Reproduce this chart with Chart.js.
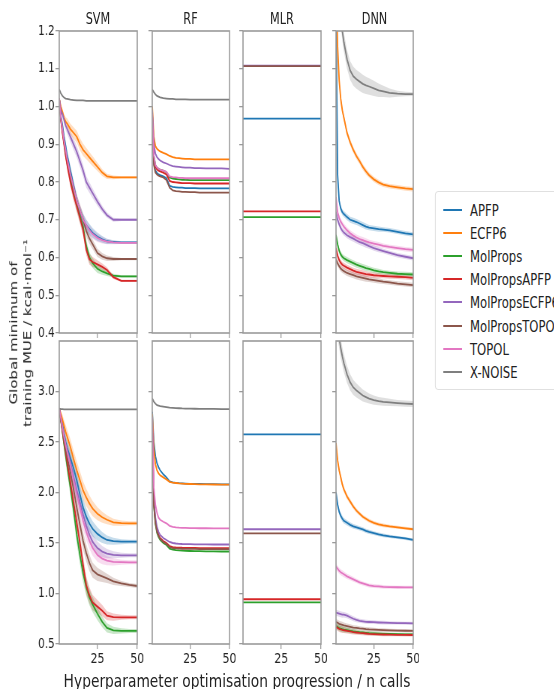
<!DOCTYPE html>
<html>
<head>
<meta charset="utf-8">
<script src="https://cdn.jsdelivr.net/npm/chart.js@4/dist/chart.umd.min.js"></script>
<style>
  html, body { margin: 0; padding: 0; background: #fff; }
  #page { position: relative; width: 554px; height: 689px; overflow: hidden; }
  #fig { position: absolute; left: 0; top: 0; width: 739px; height: 689px; transform: scaleX(0.75); transform-origin: 0 0; }
  #fig canvas { position: absolute; }
  .txt { position: absolute; white-space: nowrap; color: #222; line-height: 1; }
</style>
</head>
<body>
<div id="page"><div id="fig"></div></div>
<script>
// the source figure is squeezed sideways, so everything is laid out wider and scaled by SQ
const SQ = 0.75;
const FONT = '"DejaVu Sans", sans-serif';

const series = ['APFP', 'ECFP6', 'MolProps', 'MolPropsAPFP', 'MolPropsECFP6', 'MolPropsTOPO', 'TOPOL', 'X-NOISE'];
const colours = ['#1f77b4', '#ff7f0e', '#2ca02c', '#d62728', '#9467bd', '#8c564b', '#e377c2', '#7f7f7f'];
const models = ['SVM', 'RF', 'MLR', 'DNN'];

const calls = [1, 2, 3, 4, 5, 6, 8, 10, 12, 14, 16, 18, 20, 22, 25, 28, 31, 35, 40, 45, 50];
const xTicks = [25, 50];
const topTicks = [0.4, 0.5, 0.6, 0.7, 0.8, 0.9, 1.0, 1.1, 1.2];
const bottomTicks = [0.5, 1.0, 1.5, 2.0, 2.5, 3.0];

// series order as in `series`
const svmTop = [
  [1.02, 0.975, 0.95, 0.92, 0.895, 0.87, 0.83, 0.79, 0.75, 0.72, 0.70, 0.685, 0.675, 0.665, 0.655, 0.648, 0.643, 0.641, 0.64, 0.64, 0.64],
  [1.02, 1.00, 0.985, 0.97, 0.96, 0.955, 0.94, 0.93, 0.92, 0.90, 0.885, 0.875, 0.865, 0.855, 0.84, 0.825, 0.815, 0.812, 0.812, 0.812, 0.812],
  [1.02, 0.965, 0.935, 0.905, 0.875, 0.85, 0.81, 0.775, 0.74, 0.71, 0.68, 0.63, 0.60, 0.585, 0.57, 0.563, 0.558, 0.552, 0.55, 0.55, 0.55],
  [1.02, 0.965, 0.93, 0.90, 0.87, 0.845, 0.80, 0.765, 0.735, 0.705, 0.673, 0.62, 0.595, 0.588, 0.582, 0.575, 0.567, 0.548, 0.538, 0.538, 0.538],
  [1.02, 0.99, 0.98, 0.965, 0.95, 0.94, 0.92, 0.90, 0.88, 0.855, 0.83, 0.80, 0.785, 0.77, 0.748, 0.728, 0.712, 0.70, 0.70, 0.70, 0.70],
  [1.02, 0.97, 0.94, 0.91, 0.88, 0.86, 0.82, 0.785, 0.75, 0.725, 0.70, 0.67, 0.65, 0.635, 0.612, 0.603, 0.598, 0.596, 0.596, 0.596, 0.596],
  [1.02, 0.97, 0.94, 0.91, 0.885, 0.86, 0.82, 0.785, 0.75, 0.725, 0.70, 0.685, 0.672, 0.662, 0.652, 0.646, 0.642, 0.64, 0.639, 0.639, 0.639],
  [1.045, 1.035, 1.028, 1.024, 1.021, 1.02, 1.018, 1.017, 1.016, 1.016, 1.016, 1.015, 1.015, 1.015, 1.015, 1.015, 1.015, 1.015, 1.015, 1.015, 1.015],
];
const svmTopSpread = [0, 0.006, 0.009, 0.011, 0.012, 0.013, 0.014, 0.015, 0.016, 0.016, 0.016, 0.015, 0.014, 0.013, 0.011, 0.009, 0.007, 0.005, 0.003, 0.003, 0.003];

const svmBottom = [
  [2.83, 2.75, 2.67, 2.58, 2.50, 2.44, 2.34, 2.24, 2.12, 1.98, 1.85, 1.76, 1.69, 1.64, 1.59, 1.555, 1.53, 1.518, 1.513, 1.513, 1.513],
  [2.83, 2.78, 2.72, 2.66, 2.60, 2.55, 2.45, 2.33, 2.22, 2.12, 2.02, 1.95, 1.89, 1.84, 1.79, 1.755, 1.73, 1.705, 1.697, 1.695, 1.695],
  [2.83, 2.71, 2.60, 2.48, 2.37, 2.26, 2.05, 1.83, 1.58, 1.38, 1.20, 1.06, 0.96, 0.89, 0.80, 0.72, 0.66, 0.635, 0.63, 0.629, 0.629],
  [2.83, 2.72, 2.61, 2.50, 2.40, 2.30, 2.10, 1.90, 1.70, 1.50, 1.28, 1.08, 0.98, 0.91, 0.87, 0.83, 0.78, 0.766, 0.764, 0.764, 0.764],
  [2.83, 2.74, 2.65, 2.56, 2.48, 2.42, 2.30, 2.15, 2.02, 1.90, 1.78, 1.67, 1.58, 1.51, 1.45, 1.415, 1.395, 1.383, 1.378, 1.378, 1.378],
  [2.83, 2.72, 2.62, 2.52, 2.43, 2.35, 2.20, 2.03, 1.85, 1.68, 1.52, 1.40, 1.30, 1.23, 1.19, 1.17, 1.15, 1.12, 1.10, 1.085, 1.074],
  [2.83, 2.74, 2.64, 2.55, 2.47, 2.40, 2.27, 2.12, 1.98, 1.85, 1.72, 1.61, 1.52, 1.45, 1.38, 1.345, 1.325, 1.313, 1.31, 1.309, 1.309],
  [2.83, 2.826, 2.825, 2.824, 2.824, 2.824, 2.824, 2.824, 2.824, 2.824, 2.824, 2.824, 2.824, 2.824, 2.824, 2.824, 2.824, 2.824, 2.824, 2.824, 2.824],
];
const svmBottomSpread = [0, 0.03, 0.05, 0.06, 0.07, 0.075, 0.08, 0.085, 0.09, 0.09, 0.09, 0.085, 0.08, 0.075, 0.065, 0.055, 0.045, 0.035, 0.025, 0.02, 0.02];

const rfTop = [
  [0.97, 0.85, 0.83, 0.824, 0.82, 0.818, 0.815, 0.81, 0.79, 0.787, 0.786, 0.785, 0.785, 0.784, 0.784, 0.784, 0.783, 0.783, 0.783, 0.783, 0.783],
  [1.00, 0.92, 0.895, 0.888, 0.884, 0.881, 0.877, 0.874, 0.869, 0.866, 0.864, 0.863, 0.862, 0.861, 0.861, 0.86, 0.86, 0.86, 0.86, 0.86, 0.86],
  [0.98, 0.87, 0.845, 0.838, 0.835, 0.833, 0.83, 0.826, 0.812, 0.809, 0.808, 0.807, 0.806, 0.806, 0.805, 0.805, 0.805, 0.805, 0.805, 0.805, 0.805],
  [0.98, 0.86, 0.84, 0.833, 0.83, 0.828, 0.825, 0.82, 0.803, 0.80, 0.799, 0.798, 0.797, 0.797, 0.797, 0.796, 0.796, 0.796, 0.796, 0.796, 0.796],
  [0.99, 0.90, 0.875, 0.866, 0.861, 0.857, 0.852, 0.849, 0.845, 0.842, 0.841, 0.84, 0.839, 0.838, 0.838, 0.837, 0.837, 0.836, 0.836, 0.836, 0.835],
  [0.97, 0.845, 0.825, 0.82, 0.817, 0.815, 0.812, 0.805, 0.785, 0.778, 0.776, 0.775, 0.774, 0.774, 0.773, 0.773, 0.772, 0.772, 0.772, 0.772, 0.772],
  [0.98, 0.87, 0.845, 0.838, 0.835, 0.833, 0.83, 0.827, 0.815, 0.813, 0.812, 0.811, 0.811, 0.81, 0.81, 0.81, 0.81, 0.81, 0.81, 0.81, 0.81],
  [1.045, 1.038, 1.032, 1.028, 1.026, 1.024, 1.022, 1.021, 1.02, 1.02, 1.019, 1.019, 1.019, 1.019, 1.018, 1.018, 1.018, 1.018, 1.018, 1.018, 1.018],
];

const rfBottom = [
  [2.80, 2.50, 2.36, 2.29, 2.25, 2.22, 2.18, 2.15, 2.11, 2.10, 2.095, 2.092, 2.09, 2.088, 2.086, 2.085, 2.084, 2.083, 2.082, 2.081, 2.08],
  [2.78, 2.43, 2.28, 2.22, 2.19, 2.17, 2.15, 2.13, 2.105, 2.098, 2.094, 2.09, 2.088, 2.086, 2.084, 2.082, 2.081, 2.08, 2.079, 2.078, 2.078],
  [2.68, 1.87, 1.69, 1.60, 1.56, 1.53, 1.50, 1.48, 1.445, 1.435, 1.43, 1.427, 1.425, 1.423, 1.421, 1.42, 1.419, 1.418, 1.417, 1.416, 1.416],
  [2.70, 1.90, 1.72, 1.63, 1.58, 1.55, 1.52, 1.50, 1.47, 1.46, 1.457, 1.455, 1.453, 1.452, 1.451, 1.451, 1.45, 1.45, 1.45, 1.45, 1.45],
  [2.70, 1.95, 1.75, 1.66, 1.61, 1.58, 1.55, 1.53, 1.51, 1.50, 1.495, 1.492, 1.49, 1.489, 1.488, 1.487, 1.486, 1.486, 1.485, 1.485, 1.485],
  [2.68, 1.88, 1.70, 1.61, 1.57, 1.54, 1.51, 1.49, 1.46, 1.45, 1.447, 1.445, 1.443, 1.442, 1.441, 1.441, 1.44, 1.44, 1.44, 1.44, 1.44],
  [2.75, 2.05, 1.88, 1.80, 1.75, 1.73, 1.71, 1.695, 1.67, 1.66, 1.655, 1.652, 1.65, 1.649, 1.648, 1.647, 1.646, 1.646, 1.645, 1.645, 1.645],
  [2.93, 2.90, 2.88, 2.865, 2.86, 2.855, 2.85, 2.845, 2.84, 2.838, 2.836, 2.834, 2.832, 2.831, 2.83, 2.829, 2.828, 2.828, 2.827, 2.826, 2.826],
];

// MLR gives one value per descriptor set; null = above the axis range
const mlrTop = [0.968, null, 0.707, 0.722, 1.108, 1.107, null, null];
const mlrBottom = [2.576, null, 0.913, 0.943, 1.636, 1.596, null, null];

const dnnTop = [
  [1.25, 0.82, 0.75, 0.73, 0.72, 0.715, 0.707, 0.70, 0.697, 0.694, 0.69, 0.686, 0.682, 0.679, 0.677, 0.675, 0.674, 0.672, 0.668, 0.664, 0.661],
  [1.35, 1.16, 1.07, 1.02, 0.99, 0.97, 0.93, 0.905, 0.885, 0.868, 0.855, 0.84, 0.828, 0.818, 0.807, 0.799, 0.793, 0.789, 0.786, 0.783, 0.781],
  [0.66, 0.635, 0.618, 0.608, 0.602, 0.598, 0.593, 0.589, 0.585, 0.581, 0.578, 0.575, 0.572, 0.57, 0.566, 0.563, 0.561, 0.559, 0.557, 0.556, 0.555],
  [0.625, 0.605, 0.593, 0.586, 0.581, 0.578, 0.573, 0.569, 0.565, 0.562, 0.56, 0.558, 0.556, 0.555, 0.553, 0.552, 0.551, 0.55, 0.549, 0.548, 0.546],
  [0.72, 0.70, 0.688, 0.678, 0.671, 0.666, 0.659, 0.654, 0.65, 0.645, 0.641, 0.638, 0.634, 0.63, 0.625, 0.621, 0.617, 0.612, 0.606, 0.602, 0.598],
  [0.595, 0.585, 0.577, 0.571, 0.567, 0.564, 0.559, 0.556, 0.553, 0.55, 0.548, 0.546, 0.544, 0.542, 0.54, 0.538, 0.536, 0.534, 0.531, 0.529, 0.527],
  [0.76, 0.72, 0.705, 0.695, 0.688, 0.682, 0.672, 0.664, 0.658, 0.653, 0.649, 0.646, 0.643, 0.64, 0.637, 0.634, 0.631, 0.628, 0.625, 0.622, 0.62],
  [1.5, 1.38, 1.3, 1.24, 1.2, 1.17, 1.125, 1.095, 1.08, 1.072, 1.066, 1.06, 1.056, 1.053, 1.048, 1.043, 1.04, 1.036, 1.034, 1.033, 1.033],
];
const dnnTopSpread = [0.008, 0.008, 0.008, 0.008, 0.008, 0.008, 0.008, 0.008, 0.008, 0.008, 0.008, 0.008, 0.008, 0.007, 0.007, 0.007, 0.006, 0.006, 0.006, 0.006, 0.006];
const dnnTopNoiseSpread = [0.03, 0.03, 0.03, 0.028, 0.026, 0.025, 0.025, 0.025, 0.025, 0.025, 0.025, 0.024, 0.023, 0.022, 0.02, 0.018, 0.015, 0.012, 0.008, 0.006, 0.005];

const dnnBottom = [
  [2.0, 1.88, 1.81, 1.77, 1.74, 1.72, 1.70, 1.68, 1.665, 1.655, 1.645, 1.635, 1.62, 1.61, 1.598, 1.585, 1.575, 1.565, 1.555, 1.545, 1.53],
  [2.49, 2.32, 2.22, 2.15, 2.08, 2.03, 1.96, 1.91, 1.86, 1.82, 1.79, 1.76, 1.74, 1.72, 1.70, 1.685, 1.675, 1.665, 1.655, 1.645, 1.636],
  [0.68, 0.668, 0.658, 0.652, 0.647, 0.643, 0.637, 0.631, 0.625, 0.621, 0.617, 0.614, 0.611, 0.608, 0.605, 0.603, 0.601, 0.599, 0.597, 0.596, 0.595],
  [0.67, 0.66, 0.65, 0.645, 0.64, 0.636, 0.63, 0.624, 0.618, 0.614, 0.61, 0.607, 0.604, 0.601, 0.598, 0.596, 0.594, 0.592, 0.591, 0.59, 0.589],
  [0.81, 0.805, 0.80, 0.795, 0.79, 0.79, 0.78, 0.765, 0.75, 0.738, 0.73, 0.725, 0.72, 0.718, 0.716, 0.713, 0.711, 0.709, 0.707, 0.706, 0.705],
  [0.72, 0.71, 0.70, 0.695, 0.69, 0.685, 0.678, 0.67, 0.662, 0.66, 0.655, 0.652, 0.648, 0.645, 0.642, 0.639, 0.637, 0.635, 0.633, 0.631, 0.63],
  [1.27, 1.245, 1.225, 1.21, 1.20, 1.19, 1.17, 1.155, 1.14, 1.125, 1.11, 1.10, 1.09, 1.08, 1.074, 1.07, 1.066, 1.064, 1.062, 1.061, 1.061],
  [3.75, 3.62, 3.53, 3.43, 3.35, 3.28, 3.17, 3.09, 3.04, 3.01, 2.985, 2.96, 2.945, 2.93, 2.915, 2.905, 2.898, 2.892, 2.885, 2.88, 2.876],
];
const dnnBottomSpread = [0.03, 0.03, 0.03, 0.03, 0.03, 0.028, 0.026, 0.025, 0.024, 0.022, 0.02, 0.02, 0.02, 0.02, 0.019, 0.018, 0.018, 0.016, 0.015, 0.015, 0.015];
const dnnBottomNoiseSpread = [0.1, 0.1, 0.1, 0.1, 0.09, 0.09, 0.085, 0.08, 0.075, 0.07, 0.065, 0.06, 0.055, 0.05, 0.045, 0.04, 0.04, 0.035, 0.03, 0.03, 0.03];

// layout, in pixels of the final picture
const colLeft = [59, 152, 243, 336];
const colRight = [137, 229, 321, 413];
const rowTop = [31, 341];
const rowBottom = [333, 644];
const PAD = 8;

const fig = document.getElementById('fig');

function rgba(hex, a) {
  const n = parseInt(hex.slice(1), 16);
  return `rgba(${(n >> 16) & 255}, ${(n >> 8) & 255}, ${n & 255}, ${a})`;
}

function buildDatasets(p) {
  const sets = [];
  for (let i = 0; i < series.length; i++) {
    let pts;
    if (p.flat) {
      if (p.flat[i] === null) continue;
      pts = [{ x: calls[0], y: p.flat[i] }, { x: calls[calls.length - 1], y: p.flat[i] }];
    } else {
      pts = calls.map((c, k) => ({ x: c, y: p.vals[i][k] }));
    }
    const spread = p.bands ? p.bands[i] : null;
    if (spread) {
      sets.push({
        data: pts.map((d, k) => ({ x: d.x, y: d.y + spread[k] })),
        borderWidth: 0, pointRadius: 0, fill: false, order: 100 + i,
      });
      sets.push({
        data: pts.map((d, k) => ({ x: d.x, y: d.y - spread[k] })),
        borderWidth: 0, pointRadius: 0, fill: '-1',
        backgroundColor: rgba(colours[i], 0.25), order: 100 + i,
      });
    }
    sets.push({
      label: series[i],
      data: pts,
      borderColor: colours[i],
      borderWidth: 1.8,
      pointRadius: 0,
      fill: false,
      order: series.length - i,
    });
  }
  return sets;
}

const frame = {
  id: 'frame',
  afterDatasetsDraw(chart) {
    const a = chart.chartArea;
    const c = chart.ctx;
    c.save();
    c.strokeStyle = '#9a9a9a';
    c.lineWidth = 1.6;
    c.strokeRect(a.left, a.top, a.right - a.left, a.bottom - a.top);
    c.restore();
  },
};

function makePanel(p) {
  const isTop = p.row === 0;
  const yw = p.col === 0 ? 40 : 8;
  const xh = isTop ? 8 : 28;
  const l = colLeft[p.col] / SQ;
  const r = colRight[p.col] / SQ;
  const t = rowTop[p.row];
  const b = rowBottom[p.row];
  const w = Math.round(r - l + yw + PAD);
  const h = Math.round(b - t + PAD + xh);

  const canvas = document.createElement('canvas');
  canvas.width = w;
  canvas.height = h;
  canvas.style.width = w + 'px';
  canvas.style.height = h + 'px';
  canvas.style.left = (l - yw) + 'px';
  canvas.style.top = (t - PAD) + 'px';
  fig.appendChild(canvas);

  const yTicks = isTop ? topTicks : bottomTicks;
  const grid = { drawOnChartArea: false, drawTicks: true, tickLength: 5, color: '#9a9a9a', lineWidth: 1.3 };

  new Chart(canvas, {
    type: 'line',
    data: { datasets: buildDatasets(p) },
    options: {
      responsive: false,
      animation: false,
      devicePixelRatio: 1,
      events: [],
      layout: { padding: { top: PAD, right: PAD, left: 0, bottom: 0 } },
      plugins: { legend: { display: false }, tooltip: { enabled: false } },
      scales: {
        x: {
          type: 'linear',
          min: 1,
          max: 50,
          afterBuildTicks: (s) => { s.ticks = xTicks.map((v) => ({ value: v })); },
          ticks: {
            display: !isTop, autoSkip: false, maxRotation: 0, padding: 2,
            color: '#222', font: { family: FONT, size: 14.5 },
          },
          grid,
          border: { display: false },
          afterFit: (s) => { s.height = xh; s.paddingLeft = 0; s.paddingRight = 0; },
        },
        y: {
          type: 'linear',
          min: isTop ? 0.4 : 0.5,
          max: isTop ? 1.2 : 3.5,
          afterBuildTicks: (s) => { s.ticks = yTicks.map((v) => ({ value: v })); },
          ticks: {
            display: p.col === 0, autoSkip: false, padding: 1,
            color: '#222', font: { family: FONT, size: 14 },
            callback: (v) => Number(v).toFixed(1),
          },
          grid,
          border: { display: false },
          afterFit: (s) => { s.width = yw; s.paddingTop = 0; s.paddingBottom = 0; },
        },
      },
    },
    plugins: [frame],
  });
}

const both = (a) => [a, a, a, a, a, a, a, null];

const panels = [
  { row: 0, col: 0, vals: svmTop, bands: both(svmTopSpread) },
  { row: 0, col: 1, vals: rfTop },
  { row: 0, col: 2, flat: mlrTop },
  { row: 0, col: 3, vals: dnnTop, bands: [dnnTopSpread, dnnTopSpread, dnnTopSpread, dnnTopSpread, dnnTopSpread, dnnTopSpread, dnnTopSpread, dnnTopNoiseSpread] },
  { row: 1, col: 0, vals: svmBottom, bands: both(svmBottomSpread) },
  { row: 1, col: 1, vals: rfBottom },
  { row: 1, col: 2, flat: mlrBottom },
  { row: 1, col: 3, vals: dnnBottom, bands: [dnnBottomSpread, dnnBottomSpread, dnnBottomSpread, dnnBottomSpread, dnnBottomSpread, dnnBottomSpread, dnnBottomSpread, dnnBottomNoiseSpread] },
];
panels.forEach(makePanel);

// text, x given in picture pixels
function addText(html, x, y, size, transform) {
  const d = document.createElement('div');
  d.className = 'txt';
  d.innerHTML = html;
  d.style.font = `${size}px ${FONT}`;
  d.style.left = (x / SQ) + 'px';
  d.style.top = y + 'px';
  d.style.transform = 'translate(-50%, -50%)' + (transform || '');
  fig.appendChild(d);
  return d;
}

models.forEach((m, i) => addText(m, (colLeft[i] + colRight[i]) / 2, 19, 15));
addText('Hyperparameter optimisation progression / n calls', 237, 680, 18.4);
const yl = addText('Global minimum of<br>training MUE / kcal·mol⁻¹', 20, 333, 15, ' rotate(-90deg)');
yl.style.textAlign = 'center';
yl.style.lineHeight = '1.25';

// legend
const box = document.createElement('div');
box.style.cssText = `position:absolute;left:${435 / SQ}px;top:191px;width:200px;height:197px;border:1px solid #dcdcdc;border-radius:4px;background:#fff;`;
fig.appendChild(box);
series.forEach((s, i) => {
  const y = 210 + i * 23.1;
  const line = document.createElement('div');
  line.style.cssText = `position:absolute;left:${443 / SQ}px;top:${y - 1}px;width:${19 / SQ}px;height:2px;background:${colours[i]};`;
  fig.appendChild(line);
  const t = document.createElement('div');
  t.className = 'txt';
  t.textContent = s;
  t.style.font = `15.5px ${FONT}`;
  t.style.left = (470 / SQ) + 'px';
  t.style.top = (y - 8) + 'px';
  fig.appendChild(t);
});
</script>
</body>
</html>
